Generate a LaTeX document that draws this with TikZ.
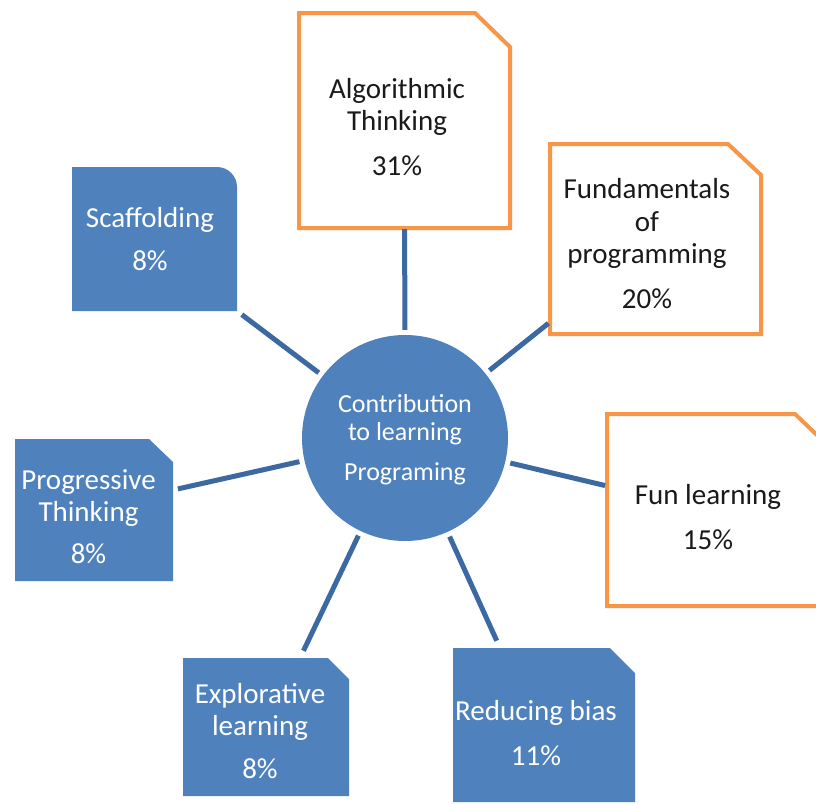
\documentclass[tikz,border=0pt]{standalone}
\usepackage{fontspec}
\setmainfont{Carlito}
\definecolor{boxblue}{HTML}{4F81BD}
\definecolor{boxorange}{HTML}{F79646}
\definecolor{linkblue}{HTML}{3D69A3}
\definecolor{inktext}{HTML}{1A1A1A}
\begin{document}
\begin{tikzpicture}[x=1pt,y=-1pt,
  frame/.style={inner sep=0pt, outer sep=0pt, draw=none},
  txt/.style={font=\fontsize{29}{32.5}\selectfont, align=center, inner sep=0pt, anchor=base},
  darktxt/.style={txt, text=inktext},
  lighttxt/.style={txt, text=white},
  orangeline/.style={draw=boxorange, line width=4pt, line join=miter, fill=white},
  bluefill/.style={fill=boxblue},
  link/.style={draw=linkblue, line width=5pt, shorten <=5pt}
]
\useasboundingbox[fill=white] (0,0) rectangle (816,803);

% frames
\node[frame, minimum width=211pt, minimum height=215pt] (alg) at (404.5,120.5) {};
\node[frame, minimum width=211pt, minimum height=190pt] (fund) at (655.5,239) {};
\node[frame, minimum width=212pt, minimum height=192pt] (fun) at (713,510) {};
\node[frame, minimum width=165pt, minimum height=144pt] (scaf) at (154.5,239) {};
\node[frame, minimum width=158pt, minimum height=142pt] (prog) at (94,510) {};
\node[frame, minimum width=166pt, minimum height=138pt] (expl) at (266,727) {};
\node[frame, minimum width=182pt, minimum height=154pt] (red) at (544,725) {};

% orange boxes
\draw[orangeline] (alg.south west) -- (alg.north west) -- ([xshift=-35pt]alg.north east)
  -- ([yshift=-34pt]alg.north east) -- (alg.south east) -- cycle;
\draw[orangeline] (fund.south west) -- (fund.north west) -- ([xshift=-33pt]fund.north east)
  -- ([yshift=-31pt]fund.north east) -- (fund.south east) -- cycle;
\draw[orangeline] (fun.south west) -- (fun.north west) -- ([xshift=-24pt]fun.north east)
  -- ([yshift=-23pt]fun.north east) -- (fun.south east) -- cycle;

% blue boxes
\fill[bluefill] (scaf.south west) -- (scaf.north west) [rounded corners=20pt] -- (scaf.north east)
  [sharp corners] -- (scaf.south east) -- cycle;
\fill[bluefill] (prog.south west) -- (prog.north west) -- ([xshift=-24pt]prog.north east)
  -- ([yshift=-23pt]prog.north east) -- (prog.south east) -- cycle;
\fill[bluefill] (expl.south west) -- (expl.north west) -- ([xshift=-21pt]expl.north east)
  -- ([yshift=-21pt]expl.north east) -- (expl.south east) -- cycle;
\fill[bluefill] (red.south west) -- (red.north west) -- ([xshift=-25pt]red.north east)
  -- ([yshift=-25pt]red.north east) -- (red.south east) -- cycle;

% centre
\node[circle, fill=boxblue, minimum size=206pt, inner sep=0pt] (c) at (405,438) {};

% connectors
\draw[link, shorten >=1pt] (c) -- (alg);
\draw[link, shorten >=6pt] (c) -- (scaf.south east);
\draw[link, shorten >=2pt] (c) -- ([yshift=12pt]fund.south west);
\draw[link, shorten >=2pt] (c) -- ([yshift=24pt]fun.west);
\draw[link, shorten >=8pt] (c) -- ([xshift=-44pt]red.north);
\draw[link, shorten >=8pt] (c) -- ([xshift=34pt]expl.north);
\draw[link, shorten >=5pt] (c) -- ([yshift=20pt]prog.east);

% texts (anchor = baseline of the last line)
\node[darktxt] (algt) at (397,175) {Algorithmic\\Thinking\\[12pt]31\%};
\node[darktxt] (fundt) at (647,308) {Fundamentals\\of\\programming\\[12pt]20\%};
\node[darktxt] (funt) at (708,549) {Fun learning\\[12.5pt]15\%};
\node[lighttxt] (scaft) at (150,270) {Scaffolding\\[10.5pt]8\%};
\node[lighttxt] (progt) at (88.5,563) {Progressive\\Thinking\\[9pt]8\%};
\node[lighttxt] (explt) at (260,778) {Explorative\\learning\\[10pt]8\%};
\node[lighttxt] (redt) at (536,765) {Reducing bias\\[12.5pt]11\%};
\node[lighttxt, font=\fontsize{26}{28}\selectfont] (ct) at (405,480) {Contribution\\to learning\\[12pt]Programing};
\end{tikzpicture}
\end{document}
